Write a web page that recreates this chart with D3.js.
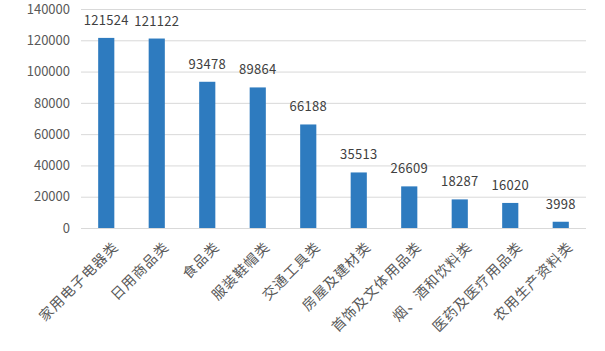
<!DOCTYPE html>
<html>
<head>
<meta charset="utf-8">
<script src="https://cdn.jsdelivr.net/npm/d3@7"></script>
<style>
  body { margin: 0; background: #fff; }
</style>
</head>
<body>
<div class="chart"></div>
<script>
var width = 605;
var height = 351;
var categories = ['家用电子电器类', '日用商品类', '食品类', '服装鞋帽类', '交通工具类',
  '房屋及建材类', '首饰及文体用品类', '烟、酒和饮料类', '医药及医疗用品类', '农用生产资料类'];
var values = [121524, 121122, 93478, 89864, 66188, 35513, 26609, 18287, 16020, 3998];
var yTicks = [0, 20000, 40000, 60000, 80000, 100000, 120000, 140000];

var margin = {top: 9, right: 19, bottom: 123, left: 81};
var font = '"Noto Sans CJK SC", "DejaVu Sans", sans-serif';

var x = d3.scaleBand()
  .domain(categories)
  .range([margin.left, width - margin.right])
  .paddingInner(0.68)
  .paddingOuter(0.34);

var y = d3.scaleLinear()
  .domain([0, 140000])
  .range([height - margin.bottom, margin.top]);

var svg = d3.select('.chart').append('svg')
  .attr('width', width)
  .attr('height', height)
  .style('font-family', font);

// gridlines
svg.append('g')
  .selectAll('line')
  .data(yTicks)
  .enter().append('line')
    .attr('x1', margin.left)
    .attr('x2', width - margin.right)
    .attr('y1', d => y(d) + 0.5)
    .attr('y2', d => y(d) + 0.5)
    .attr('stroke', '#d9d9d9')
    .attr('stroke-width', 1);

// y axis labels
var yAxis = svg.append('g')
  .attr('transform', `translate(${margin.left}, 0)`)
  .call(d3.axisLeft(y).tickValues(yTicks).tickSize(0).tickPadding(11).tickFormat(d3.format('d')));
yAxis.select('.domain').remove();
yAxis.selectAll('text')
  .style('font-family', font)
  .style('font-size', '13px')
  .attr('fill', '#595959');

// bars
svg.append('g')
  .selectAll('rect')
  .data(values)
  .enter().append('rect')
    .attr('x', (d, i) => x(categories[i]))
    .attr('y', d => y(d))
    .attr('width', x.bandwidth())
    .attr('height', d => y(0) - y(d))
    .attr('fill', '#2e7bbf');

// value labels
svg.append('g')
  .selectAll('text')
  .data(values)
  .enter().append('text')
    .attr('x', (d, i) => x(categories[i]) + x.bandwidth() / 2)
    .attr('y', d => y(d) - 13)
    .attr('text-anchor', 'middle')
    .style('font-size', '13px')
    .style('letter-spacing', '0.3px')
    .attr('fill', '#404040')
    .text(d => d);

// category labels, rotated
var xAxis = svg.append('g')
  .attr('transform', `translate(0, ${y(0)})`)
  .call(d3.axisBottom(x).tickSize(0).tickPadding(0));
xAxis.select('.domain').remove();
xAxis.selectAll('text')
  .style('font-family', font)
  .style('font-size', '14px')
  .style('letter-spacing', '1px')
  .attr('fill', '#595959')
  .attr('text-anchor', 'end')
  .attr('dy', '0')
  .attr('transform', 'translate(13, 20) rotate(-45)');
</script>
</body>
</html>
